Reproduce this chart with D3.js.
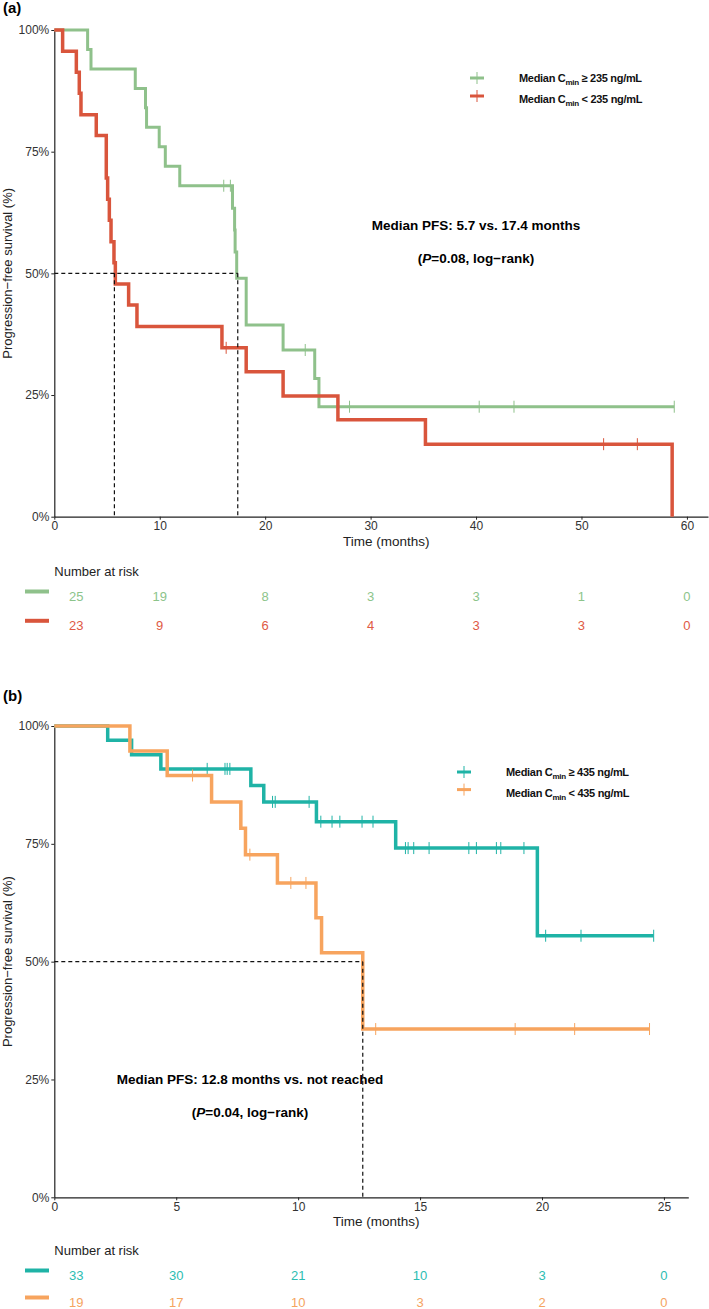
<!DOCTYPE html>
<html>
<head>
<meta charset="utf-8">
<script src="https://cdn.jsdelivr.net/npm/d3@7"></script>
<style>
  body{margin:0;background:#fff;}
  svg text{font-family:"Liberation Sans",Arial,sans-serif;}
</style>
</head>
<body>
<svg id="chart" width="709" height="1309"></svg>
<script>
// PANEL A : Cmin cut-off 235 ng/mL  ([time in months, survival])
const aHighSteps = [[0,1],[3.16,0.96],[3.48,0.92],[7.68,0.88],[8.65,0.84],[8.75,0.80],[9.95,0.76],[10.53,0.72],[11.9,0.68],
  [16.9,0.634],[17.1,0.589],[17.15,0.544],[17.3,0.49],[18.2,0.394],[21.7,0.3425],[24.7,0.284],[25.1,0.226]]
const aHighCensor = [16.07,16.7,23.8,28.0,40.3,43.6,58.8]
const aHighEnd = 58.8

const aLowSteps = [[0,1],[0.79,0.9565],[2.09,0.913],[2.37,0.87],[2.53,0.826],[3.98,0.783],[4.93,0.696],[5.06,0.652],[5.22,0.609],
  [5.38,0.565],[5.66,0.522],[5.79,0.478],[7.05,0.435],[7.84,0.391],[15.9,0.347],[18.2,0.298],[21.7,0.248],[26.9,0.199],[35.2,0.149],[58.6,0]]
const aLowCensor = [16.3,52.1,55.3]
const aLowEnd = 58.6

const aMedians = [5.7,17.4]
const aRiskTimes = [0,10,20,30,40,50,60]
const aHighRisk = [25,19,8,3,3,1,0]
const aLowRisk = [23,9,6,4,3,3,0]

// PANEL B : Cmin cut-off 435 ng/mL
const bHighSteps = [[0,1],[2.19,0.97],[3.17,0.939],[4.37,0.909],[8.06,0.874],[8.59,0.839],[10.75,0.797],[14.0,0.741],[19.81,0.555]]
const bHighCensor = [6.27,7.0,7.09,7.2,8.95,9.06,10.45,10.93,11.39,11.71,12.62,13.07,14.4,14.51,14.74,15.37,17.0,17.31,18.13,18.31,19.26,20.15,21.6,24.58]
const bHighEnd = 24.58

const bLowSteps = [[0,1],[3.1,0.947],[4.63,0.895],[6.45,0.839],[7.65,0.783],[7.84,0.727],[9.15,0.667],[10.73,0.593],[10.96,0.519],[12.65,0.357]]
const bLowCensor = [5.67,8.02,9.7,10.32,13.18,18.9,21.34,24.41]
const bLowEnd = 24.41

const bMedians = [12.65]
const bRiskTimes = [0,5,10,15,20,25]
const bHighRisk = [33,30,21,10,3,0]
const bLowRisk = [19,17,10,3,2,0]

const yTicks = [0,0.25,0.5,0.75,1]

const svg = d3.select('#chart')

function survAt(steps, t){
  let s = steps[0][1]
  steps.forEach(d=>{ if(d[0] <= t) s = d[1] })
  return s
}

function drawPanel(cfg){
  const g = svg.append('g')

  const x = d3.scaleLinear().domain([0,cfg.xMax]).range([54.3,cfg.right])
  const y = d3.scaleLinear().domain([0,1]).range([cfg.bottom,cfg.top])

  // PANEL LETTER
  g.append('text')
    .attr('x',3).attr('y',cfg.letterY)
    .style('font-size','15px').style('font-weight','bold')
    .text(cfg.letter)

  // AXES
  const xAxis = g.append('g')
    .attr('transform','translate(0,'+cfg.bottom+')')
    .call(d3.axisBottom(x).tickValues(cfg.riskTimes).tickSize(3).tickSizeOuter(0).tickPadding(2))
  const yAxis = g.append('g')
    .attr('transform','translate('+x(0)+',0)')
    .call(d3.axisLeft(y).tickValues(yTicks).tickFormat(d3.format('.0%')).tickSize(3).tickSizeOuter(0).tickPadding(2))
  ;[xAxis,yAxis].forEach(a=>{
    a.style('color','#222')
    a.selectAll('text').style('font-size','12px').style('fill','#333')
    a.select('.domain').style('stroke-width',1.2)
  })

  g.append('text')
    .attr('transform','translate(12,'+y(0.5)+') rotate(-90)')
    .attr('text-anchor','middle')
    .style('font-size','13px').style('fill','#222')
    .text('Progression\u2212free survival (%)')

  g.append('text')
    .attr('x',(x(0)+cfg.right)/2+5).attr('y',cfg.bottom+29)
    .attr('text-anchor','middle')
    .style('font-size','13.5px').style('fill','#222')
    .text('Time (months)')

  // KM CURVES
  const line = d3.line().x(d=>x(d[0])).y(d=>y(d[1])).curve(d3.curveStepAfter)
  cfg.series.forEach(s=>{
    const pts = s.steps.concat([[s.end, s.steps[s.steps.length-1][1]]])
    g.append('path')
      .attr('d',line(pts))
      .style('fill','none').style('stroke',s.color).style('stroke-width',s.width)
    g.selectAll(null).data(s.censor).enter().append('line')
      .attr('x1',d=>x(d)).attr('x2',d=>x(d))
      .attr('y1',d=>y(survAt(s.steps,d))-6).attr('y2',d=>y(survAt(s.steps,d))+6)
      .style('stroke',s.color).style('stroke-width',1)
  })

  // MEDIAN GUIDES
  g.append('line')
    .attr('x1',x(0)).attr('x2',x(d3.max(cfg.medians)))
    .attr('y1',y(0.5)).attr('y2',y(0.5))
    .style('stroke','#111').style('stroke-width',1.2).style('stroke-dasharray','4,3')
  g.selectAll(null).data(cfg.medians).enter().append('line')
    .attr('x1',d=>x(d)).attr('x2',d=>x(d))
    .attr('y1',y(0.5)).attr('y2',y(0))
    .style('stroke','#111').style('stroke-width',1.2).style('stroke-dasharray','4,3')

  // ANNOTATION
  g.append('text')
    .attr('x',cfg.noteX).attr('y',cfg.noteY)
    .attr('text-anchor','middle')
    .style('font-size','13.5px').style('font-weight','bold')
    .text(cfg.note)
  const pText = g.append('text')
    .attr('x',cfg.noteX).attr('y',cfg.noteY+33)
    .attr('text-anchor','middle')
    .style('font-size','13.5px').style('font-weight','bold')
  pText.append('tspan').text('(')
  pText.append('tspan').style('font-style','italic').text('P')
  pText.append('tspan').text('='+cfg.pValue+', log\u2212rank)')

  // LEGEND
  cfg.series.forEach((s,i)=>{
    const ly = cfg.legendY + i*cfg.legendGap
    g.append('line')
      .attr('x1',cfg.legendX-7).attr('x2',cfg.legendX+7)
      .attr('y1',ly).attr('y2',ly)
      .style('stroke',s.color).style('stroke-width',3)
    g.append('line')
      .attr('x1',cfg.legendX).attr('x2',cfg.legendX)
      .attr('y1',ly-6).attr('y2',ly+6)
      .style('stroke',s.color).style('stroke-width',1)
    const t = g.append('text')
      .attr('x',cfg.legendX+42).attr('y',ly+4+i*3)
      .style('font-size','11px').style('font-weight','bold').style('fill','#111')
      .style('letter-spacing','-0.3px')
    t.append('tspan').text('Median C')
    t.append('tspan').attr('dy',3).style('font-size','8px').text('min')
    t.append('tspan').attr('dy',-3).text(s.label)
  })

  // NUMBER AT RISK
  g.append('text')
    .attr('x',x(0)).attr('y',cfg.riskY)
    .style('font-size','13px').style('fill','#222')
    .text('Number at risk')
  cfg.series.forEach((s,i)=>{
    const ry = cfg.riskY + 25 + i*cfg.riskGap
    g.append('line')
      .attr('x1',25).attr('x2',49)
      .attr('y1',ry-9.5).attr('y2',ry-9.5)
      .style('stroke',s.color).style('stroke-width',4)
    g.selectAll(null).data(s.risk).enter().append('text')
      .attr('x',(d,j)=> j===0 ? x(cfg.riskTimes[j])+22 : x(cfg.riskTimes[j]))
      .attr('y',ry)
      .attr('text-anchor','middle')
      .style('font-size','13px').style('fill',s.textColor)
      .text(d=>d)
  })
}

drawPanel({
  letter:'(a)', letterY:13, top:30, bottom:516.7, right:708, xMax:62,
  riskTimes:aRiskTimes, medians:aMedians,
  note:'Median PFS: 5.7 vs. 17.4 months', pValue:'0.08', noteX:476, noteY:230,
  legendX:477, legendY:78, legendGap:18,
  riskY:576, riskGap:29.3,
  series:[
    {steps:aHighSteps, censor:aHighCensor, end:aHighEnd, risk:aHighRisk, color:'#8fc18b', textColor:'#8cc48a', width:3,
     label:' \u2265 235 ng/mL'},
    {steps:aLowSteps, censor:aLowCensor, end:aLowEnd, risk:aLowRisk, color:'#d9553c', textColor:'#e05a45', width:3.5,
     label:' < 235 ng/mL'}
  ]
})

drawPanel({
  letter:'(b)', letterY:701, top:726, bottom:1197.3, right:688.3, xMax:26,
  riskTimes:bRiskTimes, medians:bMedians,
  note:'Median PFS: 12.8 months vs. not reached', pValue:'0.04', noteX:250, noteY:1084,
  legendX:464, legendY:772, legendGap:17.6,
  riskY:1255, riskGap:27,
  series:[
    {steps:bHighSteps, censor:bHighCensor, end:bHighEnd, risk:bHighRisk, color:'#1fb3a6', textColor:'#2dbdb2', width:3.5,
     label:' \u2265 435 ng/mL'},
    {steps:bLowSteps, censor:bLowCensor, end:bLowEnd, risk:bLowRisk, color:'#f7a45e', textColor:'#f5a45f', width:3.5,
     label:' < 435 ng/mL'}
  ]
})
</script>
</body>
</html>
